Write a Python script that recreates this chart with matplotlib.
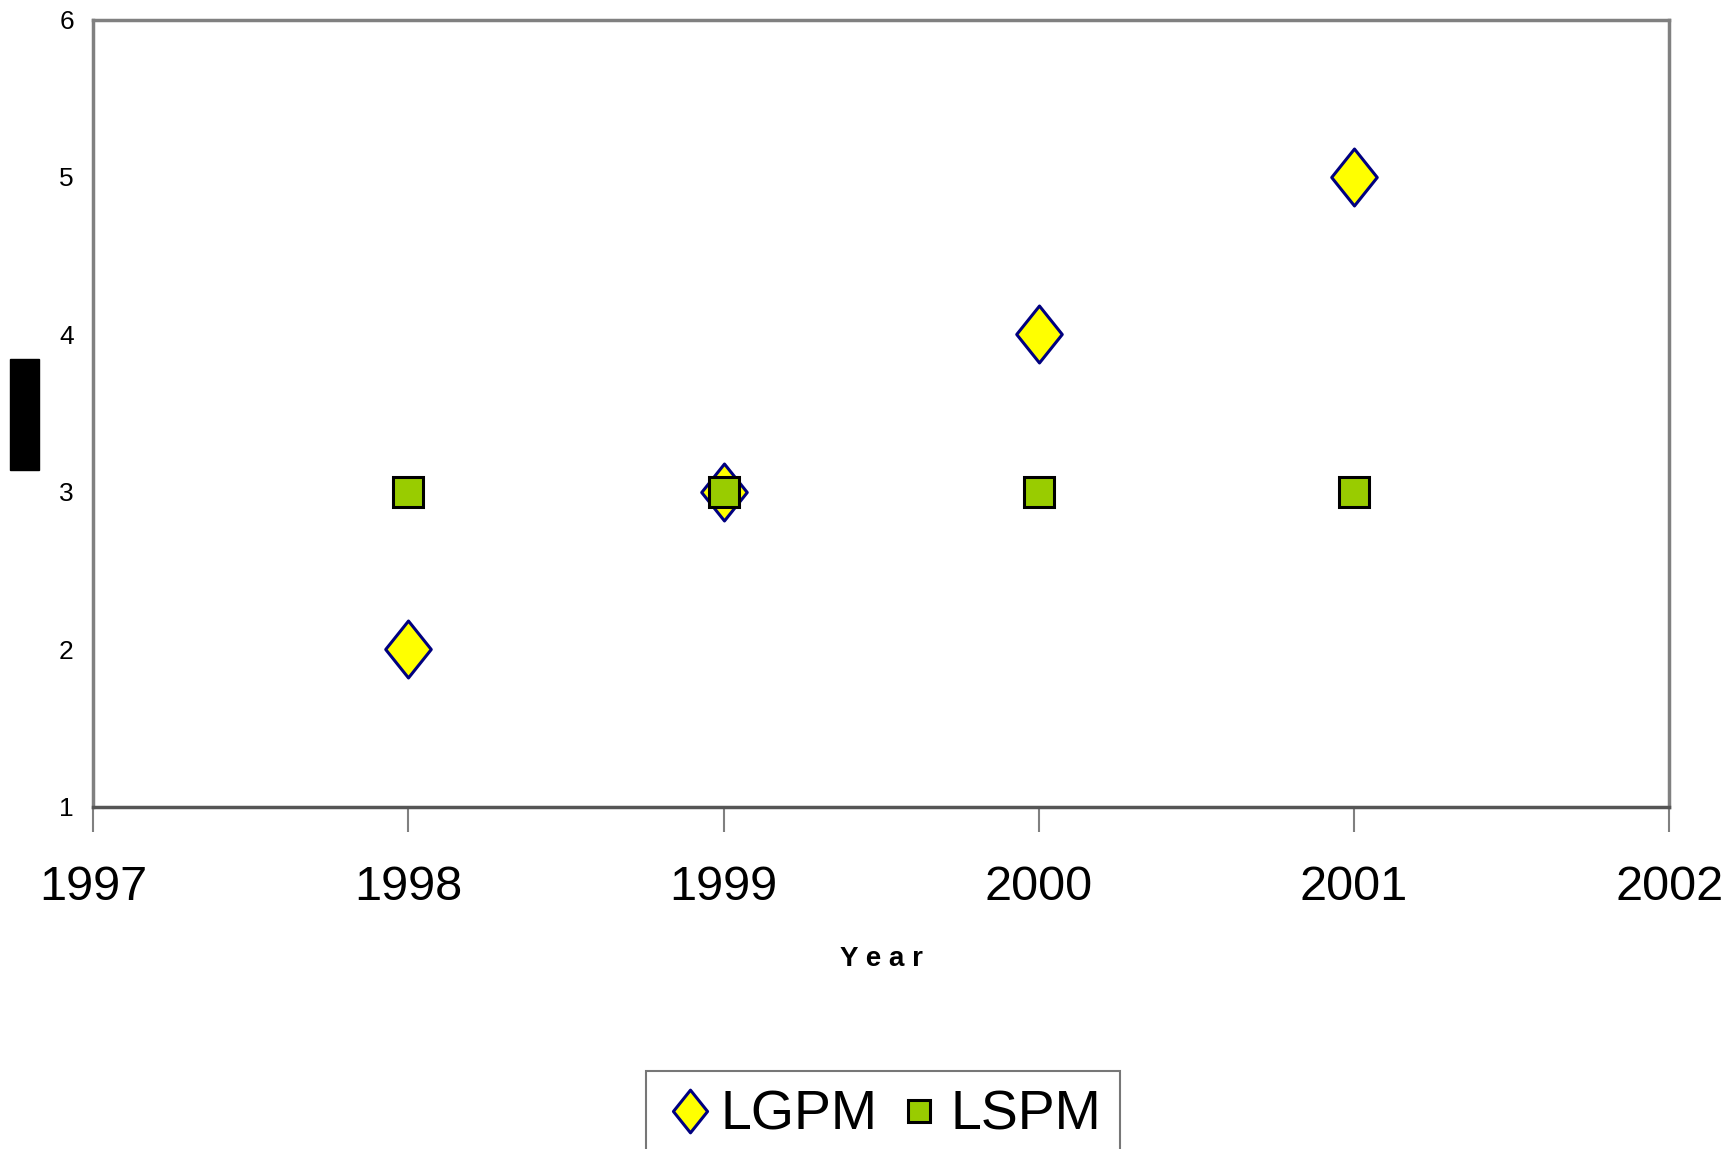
import matplotlib
matplotlib.use("Agg")
import matplotlib.pyplot as plt
from matplotlib.patches import Rectangle
from matplotlib.path import Path

years_lgpm = [1998, 1999, 2000, 2001]
lgpm = [2, 3, 4, 5]
years_lspm = [1998, 1999, 2000, 2001]
lspm = [3, 3, 3, 3]
xticks = [1997, 1998, 1999, 2000, 2001, 2002]
yticks = [1, 2, 3, 4, 5, 6]

fam = ['Liberation Sans Narrow', 'Liberation Sans', 'DejaVu Sans']
plt.rcParams['font.family'] = fam

fig = plt.figure(figsize=(17.28, 11.49), dpi=100)
ax = fig.add_axes([0.054, 0.298, 0.912, 0.685])
diamond = Path([(0, 1), (0.8, 0), (0, -1), (-0.8, 0), (0, 1)], closed=True)
ax.plot(years_lgpm, lgpm, linestyle='none', marker=diamond, markersize=41,
        markerfacecolor='#ffff00', markeredgecolor='#000080', markeredgewidth=2.2,
        label='LGPM', zorder=3)
ax.plot(years_lspm, lspm, linestyle='none', marker='s', markersize=21,
        markerfacecolor='#99cc00', markeredgecolor='#000000', markeredgewidth=2.2,
        label='LSPM', zorder=4)
ax.set_xlim(1997, 2002)
ax.set_ylim(1, 6)
ax.set_xticks(xticks)
ax.set_yticks(yticks)
ax.tick_params(axis='x', labelsize=35, length=18, width=1.5, color='#808080', pad=24)
ax.tick_params(axis='y', labelsize=19, length=0, pad=14)
for s in ax.spines.values():
    s.set_color('#808080'); s.set_linewidth(2.5)
ax.spines['bottom'].set_color('#555555')
ax.set_xlabel('Y e a r', fontsize=20, fontweight='bold', labelpad=26)
fig.patches.append(Rectangle((10/1728, 1-470/1149), 29/1728, 111/1149,
                             transform=fig.transFigure, color='black'))
leg = fig.legend(loc='lower center', bbox_to_anchor=(0.511, -0.035), ncol=2,
                 fontsize=40, frameon=True, fancybox=False, handletextpad=0.1,
                 columnspacing=0.3, borderpad=0.35, handlelength=0.9,
                 markerscale=0.75)
leg.get_frame().set_edgecolor('#555555')
leg.get_frame().set_linewidth(1.5)
fig.savefig('out.png', dpi=100)
